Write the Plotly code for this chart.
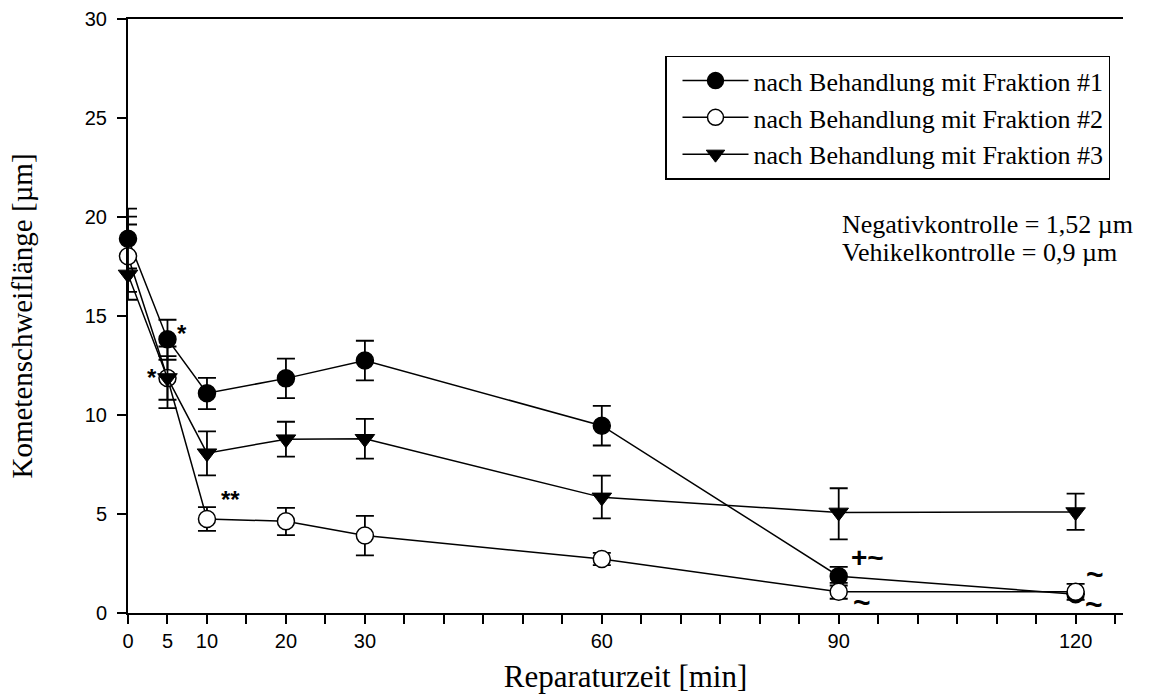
import plotly.graph_objects as go

# Repair time points (min)
minutes = [0, 5, 10, 20, 30, 60, 90, 120]

# Comet tail length (µm) per fraction, with upper / lower error
frak1 = [18.9, 13.83, 11.1, 11.85, 12.75, 9.46, 1.86, 0.95]
frak1_up = [1.52, 0.98, 0.78, 1.0, 1.0, 1.0, 0.47, 0.0]
frak1_dn = [1.5, 1.04, 0.8, 1.0, 1.0, 1.0, 0.47, 0.0]

frak2 = [18.02, 11.87, 4.75, 4.63, 3.91, 2.73, 1.07, 1.07]
frak2_up = [2.0, 1.59, 0.6, 0.68, 1.0, 0.31, 0.45, 0.4]
frak2_dn = [1.8, 1.52, 0.6, 0.7, 1.0, 0.31, 0.35, 0.4]

frak3 = [17.1, 11.87, 8.07, 8.78, 8.8, 5.84, 5.08, 5.1]
frak3_up = [2.52, 1.1, 1.1, 0.88, 1.0, 1.1, 1.22, 0.93]
frak3_dn = [1.28, 1.1, 1.12, 0.88, 1.0, 1.06, 1.36, 0.9]

names = ["nach Behandlung mit Fraktion #1",
         "nach Behandlung mit Fraktion #2",
         "nach Behandlung mit Fraktion #3"]

x_tickvals = list(range(0, 130, 5))
x_labelled = {0: "0", 5: "5", 10: "10", 20: "20", 30: "30", 60: "60", 90: "90", 120: "120"}

# Significance marks next to individual points
marks = [
    (6.9, 14.14, "*", 24),
    (3.0, 11.87, "*", 24),
    (13.0, 5.73, "**", 24),
    (93.6, 2.82, "+~", 28),
    (93.0, 0.55, "~", 30),
    (122.4, 1.95, "~", 30),
    (122.3, 0.45, "~", 30),
]

controls = ["Negativkontrolle = 1,52 µm", "Vehikelkontrolle = 0,9 µm"]

SERIF = "Liberation Serif"
SANS = "Liberation Sans"

L, R, T, B = 128, 27, 19, 83.5
W, H = 1150, 697
PW, PH = W - L - R, H - T - B

fig = go.Figure()

styles = [
    dict(symbol="circle", size=17, color="black", line=dict(color="black", width=1.5)),
    dict(symbol="circle", size=17, color="white", line=dict(color="black", width=1.5)),
    dict(symbol="triangle-down", size=17, color="black", line=dict(color="black", width=1)),
]
series = [(frak1, frak1_up, frak1_dn), (frak2, frak2_up, frak2_dn), (frak3, frak3_up, frak3_dn)]

for (vals, up, dn), name, mk in zip(series, names, styles):
    fig.add_trace(go.Scatter(
        x=minutes, y=vals, name=name, mode="lines+markers",
        line=dict(color="black", width=1.5),
        marker=mk,
        error_y=dict(type="data", array=up, arrayminus=dn, symmetric=False,
                     color="black", thickness=1.8, width=9),
        cliponaxis=False,
    ))

for mx, my, txt, fs in marks:
    fig.add_annotation(x=mx, y=my, text="<b>" + txt + "</b>", showarrow=False,
                       font=dict(family=SANS, size=fs, color="black"))

for i, txt in enumerate(controls):
    fig.add_annotation(x=(840 - L) / PW, xref="paper", xanchor="left",
                       y=1 - (225 + 28 * i - T) / PH, yref="paper", yanchor="middle",
                       text=txt, showarrow=False,
                       font=dict(family=SERIF, size=26, color="black"))

fig.update_layout(
    width=W, height=H,
    margin=dict(l=L, r=R, t=T, b=B, autoexpand=False),
    paper_bgcolor="white", plot_bgcolor="white",
    showlegend=True,
    legend=dict(
        x=(665 - L) / PW, y=1 - (55.7 - T) / PH,
        xanchor="left", yanchor="top",
        bordercolor="black", borderwidth=1.5, bgcolor="white",
        font=dict(family=SERIF, size=26, color="black"),
        itemwidth=66, indentation=11, tracegroupgap=0,
    ),
    xaxis=dict(
        range=[0, 126], showgrid=False, zeroline=False, automargin=False,
        showline=True, linecolor="black", linewidth=2, mirror=True,
        ticks="outside", ticklen=9, tickwidth=2, tickcolor="black",
        tickvals=x_tickvals,
        ticktext=[x_labelled.get(v, "") for v in x_tickvals],
        tickfont=dict(family=SANS, size=20, color="black"),
        title=dict(text="Reparaturzeit [min]", font=dict(family=SERIF, size=31, color="black"),
                   standoff=14),
    ),
    yaxis=dict(
        range=[0, 30], showgrid=False, zeroline=False, automargin=False,
        showline=True, linecolor="black", linewidth=2,
        ticks="outside", ticklen=9, tickwidth=2, tickcolor="black",
        tickvals=[0, 5, 10, 15, 20, 25, 30],
        tickfont=dict(family=SANS, size=20, color="black"),
        ticklabelstandoff=6,
        title=dict(text="Kometenschweiflänge [µm]", font=dict(family=SERIF, size=29, color="black"),
                   standoff=44),
    ),
)

fig.write_html("out.html")
